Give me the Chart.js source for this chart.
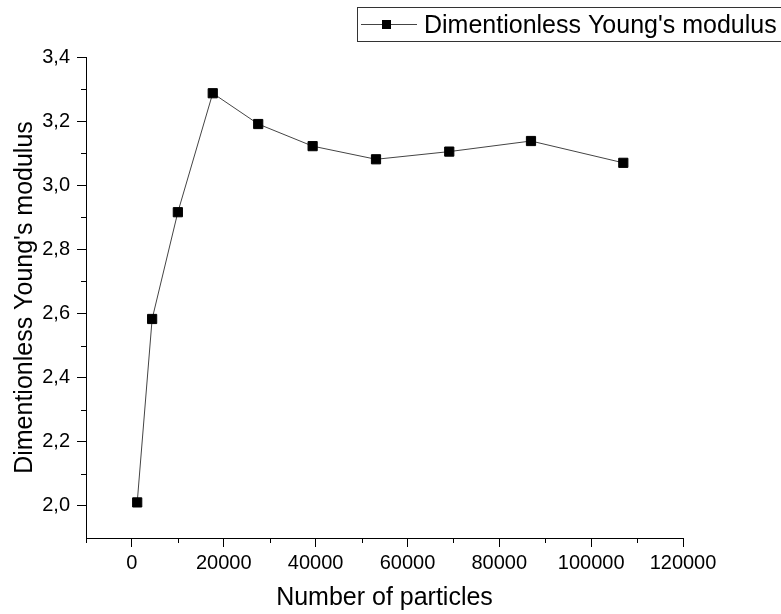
<!DOCTYPE html>
<html>
<head>
<meta charset="utf-8">
<script src="https://cdn.jsdelivr.net/npm/chart.js@4.4.1/dist/chart.umd.min.js"></script>
<style>
  html, body { margin: 0; padding: 0; background: #fff; }
  #wrap { width: 781px; height: 614px; }
</style>
</head>
<body>
<div id="wrap"><canvas id="chart" width="781" height="614"></canvas></div>
<script>
// values
const particles = [1150, 4400, 10000, 17600, 27500, 39350, 53150, 69100, 86900, 107000];
const youngModulus = [2.011, 2.583, 2.916, 3.287, 3.191, 3.122, 3.081, 3.105, 3.138, 3.070];

const xTickValues = [0, 20000, 40000, 60000, 80000, 100000, 120000];
const xMinorTicks = [-10000, 10000, 30000, 50000, 70000, 90000, 110000];
const yTickValues = [2.0, 2.2, 2.4, 2.6, 2.8, 3.0, 3.2, 3.4];
const yMinorTicks = [2.1, 2.3, 2.5, 2.7, 2.9, 3.1, 3.3];

const seriesName = "Dimentionless Young's modulus";
const xTitle = 'Number of particles';
const yTitle = "Dimentionless Young's modulus";

const FONT = "'Liberation Sans', Arial, sans-serif";

// small ticks between the labelled ones, like Origin draws them
const minorTicks = {
    id: 'minorTicks',
    afterDraw(chart) {
        const ctx = chart.ctx;
        const { x, y } = chart.scales;
        ctx.save();
        ctx.strokeStyle = '#000';
        ctx.lineWidth = 1;
        ctx.beginPath();
        xMinorTicks.forEach(v => {
            const px = Math.round(x.getPixelForValue(v)) + 0.5;
            ctx.moveTo(px, y.bottom);
            ctx.lineTo(px, y.bottom + 5);
        });
        yMinorTicks.forEach(v => {
            const py = Math.round(y.getPixelForValue(v)) + 0.5;
            ctx.moveTo(x.left, py);
            ctx.lineTo(x.left - 5, py);
        });
        ctx.stroke();
        ctx.restore();
    }
};

// boxed legend in the top right corner
const boxLegend = {
    id: 'boxLegend',
    afterDraw(chart) {
        const ctx = chart.ctx;
        ctx.save();
        ctx.strokeStyle = '#333';
        ctx.lineWidth = 1;
        ctx.strokeRect(357.5, 7.5, 440, 34);
        ctx.strokeStyle = '#444';
        ctx.beginPath();
        ctx.moveTo(361, 24.5);
        ctx.lineTo(417, 24.5);
        ctx.stroke();
        ctx.fillStyle = '#000';
        ctx.fillRect(382, 20, 9, 9);
        ctx.font = '25px ' + FONT;
        ctx.textBaseline = 'alphabetic';
        ctx.textAlign = 'left';
        ctx.fillText(seriesName, 424, 33);
        ctx.restore();
    }
};

new Chart(document.getElementById('chart').getContext('2d'), {
    type: 'line',
    data: {
        datasets: [{
            label: seriesName,
            data: particles.map((p, i) => ({ x: p, y: youngModulus[i] })),
            borderColor: '#444',
            borderWidth: 1,
            tension: 0,
            pointStyle: 'rect',
            pointRadius: 6.5,
            pointBackgroundColor: '#000',
            pointBorderColor: '#000',
            pointBorderWidth: 1
        }]
    },
    options: {
        responsive: false,
        animation: false,
        devicePixelRatio: 1,
        layout: { padding: { left: 0, top: 57, right: 98, bottom: 0 } },
        plugins: {
            legend: { display: false },
            tooltip: { enabled: false }
        },
        scales: {
            x: {
                type: 'linear',
                min: -10000,
                max: 120000,
                afterFit: s => { s.height = 76; },
                afterBuildTicks: s => { s.ticks = xTickValues.map(v => ({ value: v })); },
                border: { display: true, color: '#000', width: 1 },
                grid: { drawOnChartArea: false, drawTicks: true, tickLength: 9, color: '#000' },
                ticks: {
                    color: '#000',
                    padding: 4,
                    maxRotation: 0,
                    font: { family: FONT, size: 20 },
                    callback: v => String(v)
                },
                title: {
                    display: true,
                    text: xTitle,
                    color: '#000',
                    font: { family: FONT, size: 25 },
                    padding: { top: 0, bottom: 1 }
                }
            },
            y: {
                type: 'linear',
                min: 1.9,
                max: 3.4,
                afterFit: s => { s.width = 86; },
                afterBuildTicks: s => { s.ticks = yTickValues.map(v => ({ value: v })); },
                border: { display: true, color: '#000', width: 1 },
                grid: { drawOnChartArea: false, drawTicks: true, tickLength: 9, color: '#000' },
                ticks: {
                    color: '#000',
                    padding: 7,
                    font: { family: FONT, size: 20 },
                    callback: v => v.toFixed(1).replace('.', ',')
                },
                title: {
                    display: true,
                    text: yTitle,
                    color: '#000',
                    font: { family: FONT, size: 25 },
                    padding: { top: 10, bottom: 0 }
                }
            }
        }
    },
    plugins: [minorTicks, boxLegend]
});
</script>
</body>
</html>
